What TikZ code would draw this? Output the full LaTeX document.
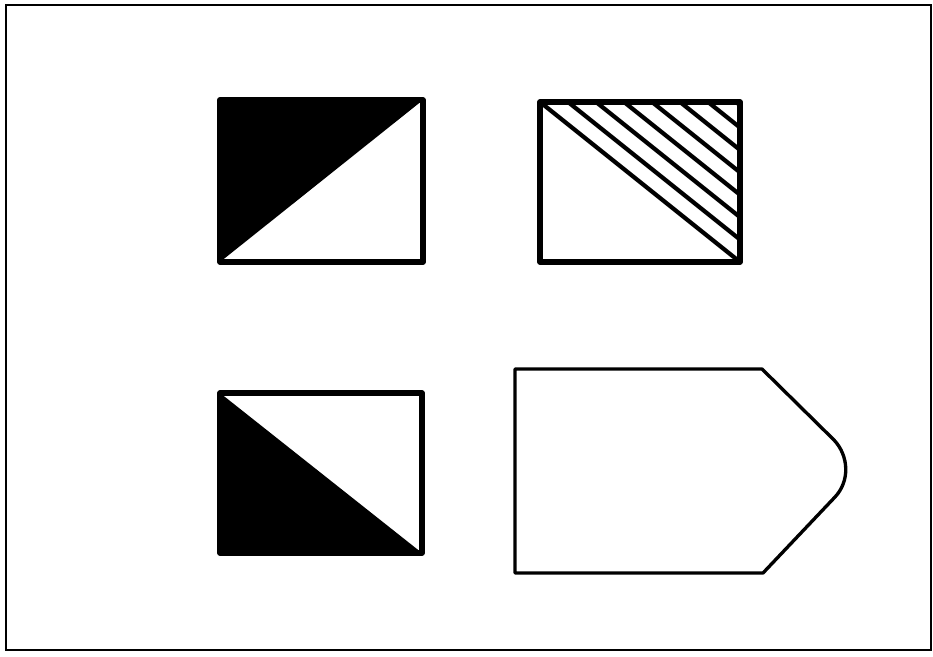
\documentclass[tikz,border=0pt]{standalone}
\usepackage{tikz}

\begin{document}
\begin{tikzpicture}[x=0.02cm, y=-0.02cm,
          frame/.style={draw=black, line width=1.4pt},
          sq/.style={draw=black, line width=3.3pt, line join=round},
          half/.style={fill=black},
          hatch/.style={draw=black, line width=2.4pt},
          tag/.style={draw=black, line width=1.9pt, line join=round}]
        \useasboundingbox (0,0) rectangle (933,656);
        \draw[frame] (6,5) rectangle (931,650);
        % upper left: black upper triangle
        \coordinate (ulA) at (220,100);
        \coordinate (ulB) at (423,262);
        \fill[half] (ulA) -- (423,100) -- (220,262) -- cycle;
        \draw[sq] (ulA) rectangle (ulB);
        % upper right: hatched
        \coordinate (urA) at (540,102);
        \coordinate (urB) at (740,262);
        \draw[hatch] (urA) -- (urB);
        \foreach \d in {28,56,...,196}
          \draw[hatch] (540+\d,102) -- (740,262-0.8*\d);
        \draw[sq] (urA) rectangle (urB);
        % lower left: black lower triangle
        \coordinate (llA) at (220,393);
        \coordinate (llB) at (422,553);
        \fill[half] (llA) -- (422,553) -- (220,553) -- cycle;
        \draw[sq] (llA) rectangle (llB);
        % lower right: tag shape
        \draw[tag] (515,369) -- (762,369) -- (834,440)
          .. controls (849,456) and (850,481) .. (835,497)
          -- (763,573) -- (515,573) -- cycle;
      \end{tikzpicture}
\end{document}
